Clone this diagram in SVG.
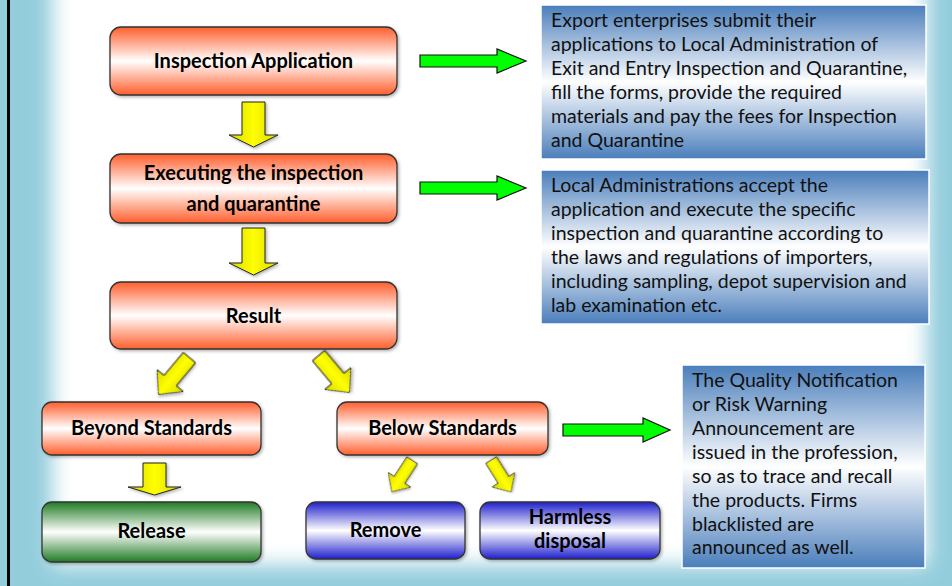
<svg xmlns="http://www.w3.org/2000/svg" width="952" height="586" viewBox="0 0 952 586">
<defs>
<linearGradient id="gOrange" x1="0" y1="0" x2="0" y2="1">
<stop offset="0" stop-color="#FF5E2C"/><stop offset="0.5" stop-color="#FFFFFF"/><stop offset="1" stop-color="#FF5E2C"/>
</linearGradient>
<linearGradient id="gGreen" x1="0" y1="0" x2="0" y2="1">
<stop offset="0" stop-color="#1F7A22"/><stop offset="0.5" stop-color="#FFFFFF"/><stop offset="1" stop-color="#1F7A22"/>
</linearGradient>
<linearGradient id="gBlue" x1="0" y1="0" x2="0" y2="1">
<stop offset="0" stop-color="#1F1FCC"/><stop offset="0.5" stop-color="#FFFFFF"/><stop offset="1" stop-color="#1F1FCC"/>
</linearGradient>
<linearGradient id="gInfo" x1="0" y1="0" x2="0" y2="1">
<stop offset="0" stop-color="#4A7EBB"/><stop offset="0.5" stop-color="#FFFFFF"/><stop offset="1" stop-color="#4A7EBB"/>
</linearGradient>
<linearGradient id="gYellow" x1="0" y1="0" x2="1" y2="0">
<stop offset="0" stop-color="#D8D800"/><stop offset="0.5" stop-color="#FFFF00"/><stop offset="1" stop-color="#D8D800"/>
</linearGradient>
<filter id="blur" x="-0.1" y="-0.1" width="1.2" height="1.2"><feGaussianBlur stdDeviation="10"/></filter>
<filter id="shadow" x="-0.1" y="-0.1" width="1.3" height="1.3"><feDropShadow dx="1.5" dy="1.5" stdDeviation="1.5" flood-color="#000" flood-opacity="0.3"/></filter>
<path id="diag" d="M-8,-24 H8 V6 H17 L0,24 L-17,6 H-8 Z"/>
</defs>
<style>
.node{stroke:#333;stroke-width:1.3;filter:url(#shadow)}
.or{fill:url(#gOrange)}
.gr{fill:url(#gGreen)}
.bl{fill:url(#gBlue)}
.info{fill:url(#gInfo);stroke:#FFFFFF;stroke-width:1.5}
.lbl{font-family:Lato,"Liberation Sans",sans-serif;font-weight:bold;font-size:20px;fill:#000;text-anchor:middle}
.body{font-family:Lato,"Liberation Sans",sans-serif;font-size:19.5px;fill:#111}
.ya{fill:url(#gYellow);stroke:#222;stroke-width:1;filter:url(#shadow)}
.ga{fill:#00FF00;stroke:#111;stroke-width:1.2}
</style>
<rect x="0" y="0" width="952" height="586" fill="#93CDDC"/>
<rect x="52" y="-60" width="875" height="625" fill="#FFFFFF" filter="url(#blur)"/>
<rect x="7" y="0" width="3" height="586" fill="#000"/>

<g id="connectors">
<path class="ga" d="M420,55 H497 V49 L526,61 L497,73 V67 H420 Z"/>
<path class="ga" d="M420,182 H497 V176 L526,188 L497,200 V194 H420 Z"/>
<path class="ga" d="M563,424 H643 V418 L670,430 L643,442 V436 H563 Z"/>
<path class="ya" d="M242,102 H265 V135 H278 L253.5,147 L229,135 H242 Z"/>
<path class="ya" d="M242,228 H265 V263 H278 L253.5,275 L229,263 H242 Z"/>
<path class="ya" d="M143,463 H166 V487 H181 L154.5,495 L128,487 H143 Z"/>
<use href="#diag" class="ya" transform="translate(174,376) rotate(40)"/>
<use href="#diag" class="ya" transform="translate(334,374) rotate(-40)"/>
<use href="#diag" class="ya" transform="translate(402,476) rotate(33) scale(0.78)"/>
<use href="#diag" class="ya" transform="translate(501,476) rotate(-32) scale(0.78)"/>
</g>

<g id="inspection-application">
<rect class="node or" x="110" y="27" width="287" height="68" rx="11"/>
<text class="lbl" x="253.5" y="68">Inspection Application</text>
</g>
<g id="executing">
<rect class="node or" x="110" y="154" width="287" height="69" rx="11"/>
<text class="lbl" x="253.5" y="180">Executing the inspection</text>
<text class="lbl" x="253.5" y="211">and quarantine</text>
</g>
<g id="result">
<rect class="node or" x="110" y="282" width="287" height="67" rx="11"/>
<text class="lbl" x="253.5" y="323">Result</text>
</g>
<g id="beyond-standards">
<rect class="node or" x="42" y="402" width="219" height="53" rx="10"/>
<text class="lbl" x="151.5" y="435">Beyond Standards</text>
</g>
<g id="below-standards">
<rect class="node or" x="337" y="402" width="211" height="53" rx="10"/>
<text class="lbl" x="442.5" y="435">Below Standards</text>
</g>
<g id="release">
<rect class="node gr" x="42" y="502" width="219" height="60" rx="10"/>
<text class="lbl" x="151.5" y="538">Release</text>
</g>
<g id="remove">
<rect class="node bl" x="306" y="502" width="159" height="57" rx="10"/>
<text class="lbl" x="385.5" y="537">Remove</text>
</g>
<g id="harmless-disposal">
<rect class="node bl" x="480" y="502" width="180" height="57" rx="10"/>
<text class="lbl" x="570" y="524">Harmless</text>
<text class="lbl" x="570" y="548">disposal</text>
</g>

<g id="info-application">
<rect class="info" x="541" y="5" width="385" height="154"/>
<text class="body" x="551" y="27">Export enterprises submit their</text>
<text class="body" x="551" y="51">applications to Local Administration of</text>
<text class="body" x="551" y="75">Exit and Entry Inspection and Quarantine,</text>
<text class="body" x="551" y="99">fill the forms, provide the required</text>
<text class="body" x="551" y="123">materials and pay the fees for Inspection</text>
<text class="body" x="551" y="147">and Quarantine</text>
</g>
<g id="info-executing">
<rect class="info" x="541" y="170" width="388" height="154"/>
<text class="body" x="551" y="192">Local Administrations accept the</text>
<text class="body" x="551" y="216">application and execute the specific</text>
<text class="body" x="551" y="240">inspection and quarantine according to</text>
<text class="body" x="551" y="264">the laws and regulations of importers,</text>
<text class="body" x="551" y="288">including sampling, depot supervision and</text>
<text class="body" x="551" y="312">lab examination etc.</text>
</g>
<g id="info-below">
<rect class="info" x="682" y="365" width="243" height="203"/>
<text class="body" x="692" y="387">The Quality Notification</text>
<text class="body" x="692" y="411">or Risk Warning</text>
<text class="body" x="692" y="435">Announcement are</text>
<text class="body" x="692" y="459">issued in the profession,</text>
<text class="body" x="692" y="483">so as to trace and recall</text>
<text class="body" x="692" y="507">the products. Firms</text>
<text class="body" x="692" y="531">blacklisted are</text>
<text class="body" x="692" y="554">announced as well.</text>
</g>
</svg>
